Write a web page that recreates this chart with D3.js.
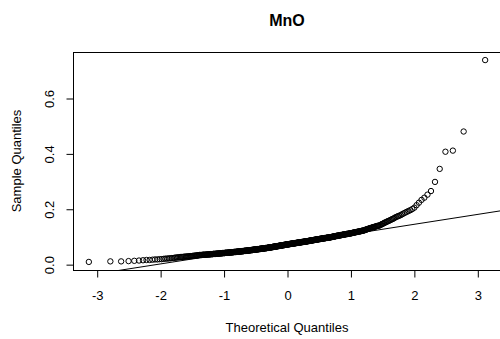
<!DOCTYPE html>
<html>
<head>
<meta charset="utf-8">
<script src="https://cdn.jsdelivr.net/npm/d3@7"></script>
<style>
  body { margin: 0; background: #fff; }
  svg { display: block; }
  text { font-family: "Liberation Sans", Arial, sans-serif; fill: #000; }
</style>
</head>
<body>
<svg id="chart" width="500" height="339"></svg>
<script>
// Labels
const chartTitle = "MnO";
const xTitle = "Theoretical Quantiles";
const yTitle = "Sample Quantiles";

// MnO measurements as a frequency table (value, number of samples)
const mnoLevels = [
  0.008, 0.010, 0.011, 0.012, 0.013, 0.014, 0.015, 0.016, 0.017, 0.018, 0.019, 0.020,
  0.021, 0.022, 0.023, 0.024, 0.025, 0.026, 0.027, 0.028, 0.029, 0.030, 0.031, 0.032,
  0.033, 0.034, 0.035, 0.036, 0.037, 0.038, 0.039, 0.040, 0.041, 0.042, 0.043, 0.044,
  0.045, 0.046, 0.047, 0.048, 0.049, 0.050, 0.051, 0.052, 0.053, 0.054, 0.055, 0.056,
  0.057, 0.058, 0.059, 0.060, 0.061, 0.062, 0.063, 0.064, 0.065, 0.066, 0.067, 0.068,
  0.069, 0.070, 0.071,
  0.072, 0.073, 0.074, 0.075, 0.076, 0.077, 0.078, 0.079, 0.080, 0.081, 0.082,
  0.083, 0.084, 0.085, 0.086, 0.087, 0.088, 0.089, 0.090, 0.091, 0.092, 0.093, 0.094, 0.095,
  0.096,
  0.097, 0.098, 0.099, 0.100, 0.101, 0.102, 0.103, 0.104, 0.105, 0.106, 0.107, 0.108, 0.109, 0.110,
  0.111, 0.112, 0.113, 0.114, 0.115, 0.116, 0.117, 0.118, 0.119, 0.120, 0.121, 0.122,
  0.123, 0.124, 0.125, 0.126, 0.127, 0.128, 0.129, 0.130, 0.131, 0.132, 0.133, 0.134,
  0.135, 0.136, 0.137, 0.138, 0.139,
  0.140, 0.141, 0.143, 0.145, 0.146, 0.148, 0.150, 0.151, 0.153, 0.155, 0.156,
  0.158, 0.160, 0.162, 0.164, 0.166, 0.169, 0.171, 0.173, 0.175,
  0.177, 0.180, 0.183, 0.186, 0.189, 0.192, 0.195, 0.199, 0.204,
  0.213, 0.222, 0.232, 0.240, 0.251, 0.264, 0.297, 0.344, 0.406, 0.410, 0.479, 0.737
];
const mnoCounts = [
  1, 2, 1, 1, 1, 1, 2, 1, 2, 2, 1, 2,
  2, 2, 1, 2, 2, 3, 3, 3, 3, 3, 3, 2,
  5, 6, 6, 5, 6, 6, 6, 6, 7, 7, 6, 7,
  7, 7, 6, 7, 6, 7, 6, 7, 6, 7, 6, 7,
  6, 7, 6, 5, 6, 5, 6, 5, 6, 5, 6, 5,
  6, 5, 6,
  6, 6, 6, 6, 6, 6, 6, 6, 6, 6, 6,
  5, 5, 5, 5, 5, 5, 5, 5, 5, 5, 5, 5, 5,
  6,
  3, 4, 3, 4, 3, 4, 4, 3, 4, 3, 4, 3, 4, 3,
  3, 3, 2, 3, 2, 3, 2, 3, 2, 2, 2, 2,
  1, 1, 1, 2, 1, 1, 1, 2, 1, 1, 1, 2,
  1, 1, 1, 2, 1,
  1, 1, 1, 1, 1, 1, 1, 1, 1, 1, 1,
  1, 1, 1, 1, 1, 1, 1, 1, 1,
  1, 1, 1, 1, 1, 1, 1, 1, 1,
  1, 1, 1, 1, 1, 1, 1, 1, 1, 1, 1, 1
];

// Axis ticks
const xTicks = [-3, -2, -1, 0, 1, 2, 3];
const yTicks = [0.0, 0.2, 0.4, 0.6];
const yTickLabels = ["0.0", "0.2", "0.4", "0.6"];

// Sorted sample
const sample = mnoLevels.flatMap((v, i) => Array(mnoCounts[i]).fill(v));
const n = sample.length;

// Inverse standard normal CDF (Acklam)
function qnorm(p) {
  const a = [-3.969683028665376e+01, 2.209460984245205e+02, -2.759285104469687e+02,
             1.383577518672690e+02, -3.066479806614716e+01, 2.506628277459239e+00];
  const b = [-5.447609879822406e+01, 1.615858368580409e+02, -1.556989798598866e+02,
             6.680131188771972e+01, -1.328068155288572e+01];
  const c = [-7.784894002430293e-03, -3.223964580411365e-01, -2.400758277161838e+00,
             -2.549671348870577e+00, 4.374664141464968e+00, 2.938163982698783e+00];
  const d = [7.784695709041462e-03, 3.224671290700398e-01, 2.445134137142996e+00,
             3.754408661907416e+00];
  const plow = 0.02425;
  if (p < plow) {
    const q = Math.sqrt(-2 * Math.log(p));
    return (((((c[0]*q + c[1])*q + c[2])*q + c[3])*q + c[4])*q + c[5]) /
           ((((d[0]*q + d[1])*q + d[2])*q + d[3])*q + 1);
  }
  if (p > 1 - plow) {
    const q = Math.sqrt(-2 * Math.log(1 - p));
    return -(((((c[0]*q + c[1])*q + c[2])*q + c[3])*q + c[4])*q + c[5]) /
            ((((d[0]*q + d[1])*q + d[2])*q + d[3])*q + 1);
  }
  const q = p - 0.5, r = q * q;
  return (((((a[0]*r + a[1])*r + a[2])*r + a[3])*r + a[4])*r + a[5]) * q /
         (((((b[0]*r + b[1])*r + b[2])*r + b[3])*r + b[4])*r + 1);
}

// Plotting positions (i - 1/2) / n
const ppoint = i => n <= 10 ? (i + 1 - 3/8) / (n + 1 - 3/4) : (i + 0.5) / n;
const points = sample.map((v, i) => ({ tq: qnorm(ppoint(i)), sq: v }));

// Reference line through the first and third quartiles
const q1 = d3.quantile(sample, 0.25), q3 = d3.quantile(sample, 0.75);
const z1 = qnorm(0.25), z3 = qnorm(0.75);
const slope = (q3 - q1) / (z3 - z1);
const intercept = q1 - slope * z1;

// Plot region and scales (data range padded by 4% on each side)
const plot = { left: 73, right: 501, top: 52, bottom: 270 };
const pad = ([lo, hi]) => [lo - 0.04 * (hi - lo), hi + 0.04 * (hi - lo)];
const xDom = pad(d3.extent(points, d => d.tq));
const yDom = pad(d3.extent(points, d => d.sq));
const x = d3.scaleLinear().domain(xDom).range([plot.left, plot.right]);
const y = d3.scaleLinear().domain(yDom).range([plot.bottom, plot.top]);

const svg = d3.select("#chart");

svg.append("defs").append("clipPath").attr("id", "plotClip")
  .append("rect")
  .attr("x", plot.left).attr("y", plot.top)
  .attr("width", plot.right - plot.left).attr("height", plot.bottom - plot.top);

// Title
svg.append("text")
  .attr("x", (plot.left + plot.right) / 2).attr("y", 26)
  .attr("text-anchor", "middle")
  .style("font-size", "16px").style("font-weight", "bold")
  .text(chartTitle);

// Points
svg.append("g")
  .selectAll("circle")
  .data(points)
  .join("circle")
  .attr("cx", d => x(d.tq))
  .attr("cy", d => y(d.sq))
  .attr("r", 2.7)
  .attr("fill", "none")
  .attr("stroke", "#000")
  .attr("stroke-width", 1);

// Reference line
svg.append("line")
  .attr("clip-path", "url(#plotClip)")
  .attr("x1", x(xDom[0])).attr("y1", y(intercept + slope * xDom[0]))
  .attr("x2", x(xDom[1])).attr("y2", y(intercept + slope * xDom[1]))
  .attr("stroke", "#000").attr("stroke-width", 1);

// Box around plot region
svg.append("rect")
  .attr("x", plot.left + 0.5).attr("y", plot.top + 0.5)
  .attr("width", plot.right - plot.left).attr("height", plot.bottom - plot.top)
  .attr("fill", "none").attr("stroke", "#000").attr("stroke-width", 1);

// X axis
const xAxis = svg.append("g")
  .attr("transform", `translate(0.5,${plot.bottom + 0.5})`)
  .call(d3.axisBottom(x).tickValues(xTicks).tickFormat(d3.format("d"))
    .tickSize(7).tickPadding(13).tickSizeOuter(0));
xAxis.select(".domain").remove();
xAxis.append("line")
  .attr("x1", x(xTicks[0])).attr("x2", x(xTicks[xTicks.length - 1]))
  .attr("stroke", "#000");
xAxis.selectAll("text").style("font-size", "13px").attr("fill", "#000")
  .text(d => String(d));

// Y axis with rotated labels
const yAxis = svg.append("g")
  .attr("transform", `translate(${plot.left + 0.5},0.5)`)
  .call(d3.axisLeft(y).tickValues(yTicks)
    .tickFormat((d, i) => yTickLabels[i]).tickSize(7).tickSizeOuter(0));
yAxis.select(".domain").remove();
yAxis.append("line")
  .attr("y1", y(yTicks[0])).attr("y2", y(yTicks[yTicks.length - 1]))
  .attr("stroke", "#000");
yAxis.selectAll(".tick text")
  .attr("transform", "rotate(-90)")
  .attr("x", 0).attr("y", -19.5).attr("dy", null)
  .attr("text-anchor", "middle")
  .style("font-size", "13px").attr("fill", "#000");

// Axis titles
svg.append("text")
  .attr("x", (plot.left + plot.right) / 2).attr("y", 332)
  .attr("text-anchor", "middle").style("font-size", "13px")
  .text(xTitle);
svg.append("text")
  .attr("transform", `translate(20.5,${(plot.top + plot.bottom) / 2}) rotate(-90)`)
  .attr("text-anchor", "middle").style("font-size", "13px")
  .text(yTitle);
</script>
</body>
</html>
